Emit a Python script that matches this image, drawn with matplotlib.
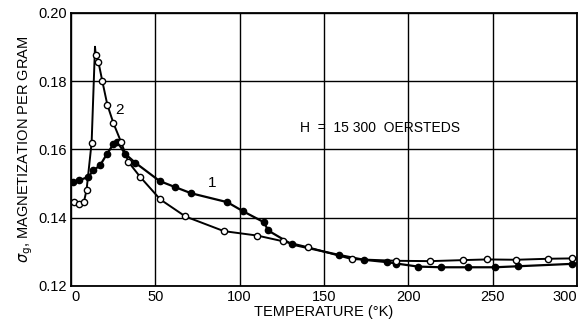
import matplotlib
matplotlib.use("Agg")
import matplotlib.pyplot as plt

plt.rcParams['font.family'] = ['Liberation Sans', 'DejaVu Sans']

# Curve 2 (open circles)
t2 = [0, 1.8, 4.8, 7.7, 9.3, 12.3, 14.3, 14.7, 16.3, 18.6, 21.6, 25.2, 29.8, 34.1, 41.1,
      53.0, 67.9, 90.7, 110.5, 126.0, 140.3, 166.5, 192.9, 213.1, 232.5, 246.8, 263.9, 283.1, 297.0, 300]
s2 = [0.1445, 0.1445, 0.1440, 0.1445, 0.1481, 0.1620, 0.1901, 0.1878, 0.1857, 0.1801, 0.1731, 0.1677, 0.1621, 0.1563, 0.1519,
      0.1453, 0.1403, 0.1360, 0.1347, 0.1330, 0.1313, 0.1278, 0.1273, 0.1272, 0.1275, 0.1277, 0.1276, 0.1279, 0.1280, 0.1280]
m2 = [False, True, True, True, True, True, False, True, True, True, True, True, True, True, True,
      True, True, True, True, True, True, True, True, True, True, True, True, True, True, False]

# Curve 1 (filled circles)
t1 = [0, 1.4, 4.8, 10.3, 13.3, 17.3, 21.2, 25.2, 27.5, 32.1, 38.1, 52.6, 61.9, 71.4, 92.7, 102.2,
      114.5, 116.9, 131.0, 159.1, 173.6, 187.5, 192.9, 205.8, 219.6, 235.5, 251.4, 265.3, 297.0, 300]
s1 = [0.1500, 0.1504, 0.1509, 0.1519, 0.1538, 0.1553, 0.1585, 0.1615, 0.1622, 0.1587, 0.1561, 0.1507, 0.1489, 0.1471, 0.1445, 0.1418,
      0.1386, 0.1362, 0.1321, 0.1290, 0.1276, 0.1269, 0.1265, 0.1256, 0.1254, 0.1254, 0.1254, 0.1257, 0.1264, 0.1265]
m1 = [False, True, True, True, True, True, True, True, True, True, True, True, True, True, True, True,
      True, True, True, True, True, True, True, True, True, True, True, True, True, False]

xticks = [0, 50, 100, 150, 200, 250, 300]
yticks = [0.12, 0.14, 0.16, 0.18, 0.20]
ytick_labels = ["0.12", "0.14", "0.16", "0.18", "0.20"]

fig = plt.figure(figsize=(5.81, 3.25), dpi=100)
ax = fig.add_axes([0.122, 0.121, 0.871, 0.839])

ax.plot(t1, s1, color='black', lw=1.6, zorder=3)
ax.plot([t for t, m in zip(t1, m1) if m], [s for s, m in zip(s1, m1) if m], 'o',
        color='black', markersize=4.5, zorder=4)
ax.plot(t2, s2, color='black', lw=1.4, zorder=3)
ax.plot([t for t, m in zip(t2, m2) if m], [s for s, m in zip(s2, m2) if m], 'o',
        markerfacecolor='white', markeredgecolor='black', markeredgewidth=1.0,
        markersize=4.5, zorder=5)

ax.set_xlim(0, 300)
ax.set_ylim(0.12, 0.20)
ax.set_xticks(xticks)
ax.set_yticks(yticks)
ax.set_yticklabels(ytick_labels)
ax.grid(True, color='black', lw=1.0)
ax.set_axisbelow(True)
for sp in ax.spines.values():
    sp.set_linewidth(1.3)
ax.tick_params(length=0, labelsize=10.5, pad=3)
ax.get_xticklabels()[-1].set_horizontalalignment('right')
ax.get_xticklabels()[0].set_horizontalalignment('left')

ax.set_xlabel("TEMPERATURE (\u00b0K)", fontsize=10.5, labelpad=1)
ax.set_ylabel(r"$\sigma_{\mathrm{g}}$, MAGNETIZATION PER GRAM", fontsize=10.5, labelpad=2)

ax.text(183, 0.1662, "H  =  15 300  OERSTEDS", fontsize=10, ha='center', va='center')
ax.text(84, 0.1500, "1", fontsize=11, ha='center', va='center')
ax.text(29, 0.1715, "2", fontsize=11, ha='center', va='center')

fig.savefig("out.png", dpi=100)
